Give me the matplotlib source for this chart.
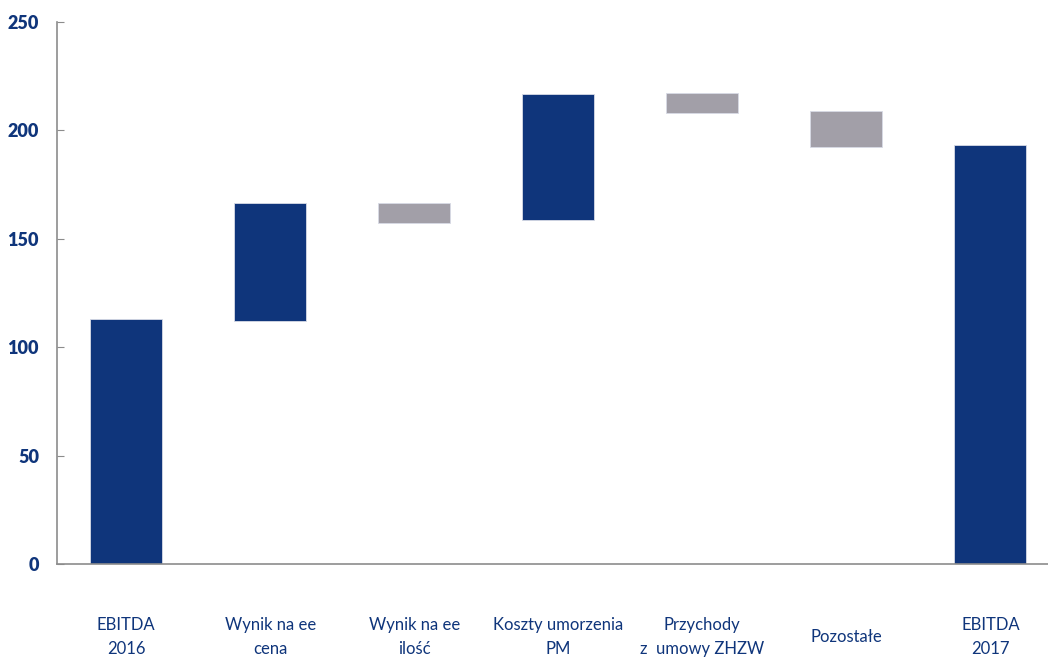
import matplotlib
matplotlib.use("Agg")
import matplotlib.pyplot as plt
import numpy as np

plt.rcParams.update({
    'font.family': ['Lato', 'DejaVu Sans'],
})

categories = ['EBITDA\n2016', 'Wynik na ee\ncena', 'Wynik na ee\nilość',
              'Koszty umorzenia\nPM', 'Przychody\nz  umowy ZHZW', 'Pozostałe',
              'EBITDA\n2017']
bar_start = [0, 112.0, 166.4, 158.5, 217.1, 209.0, 0]
bar_end = [113.0, 166.5, 157.4, 216.9, 208.2, 192.2, 193.1]

navy = '#0f357b'
grey = '#a29fa8'
axis_grey = '#8c8c8c'

fig = plt.figure(figsize=(10.48, 6.57), dpi=100)
ax = fig.add_axes([0.0544, 0.1416, 0.9456, 0.8250])

x = np.arange(len(categories))
low = np.minimum(bar_start, bar_end)
height = np.abs(np.array(bar_end) - np.array(bar_start))
colors = [navy if e >= s else grey for s, e in zip(bar_start, bar_end)]
ax.bar(x, height, bottom=low, width=0.5, color=colors,
       edgecolor='#d8dbe6', linewidth=0.6)

ax.set_xlim(-0.48, 6.40)
ax.set_ylim(0, 250)
ax.set_yticks([0, 50, 100, 150, 200, 250])
ax.tick_params(axis='y', direction='in', length=5, color=axis_grey,
               labelcolor=navy, labelsize=13, pad=13)
for lbl in ax.get_yticklabels():
    lbl.set_fontweight('heavy')

ax.set_xticks(x)
ax.set_xticklabels(categories, color=navy, fontsize=12, linespacing=1.65,
                   va='center')
ax.tick_params(axis='x', length=0, pad=52.5)

for side in ['top', 'right']:
    ax.spines[side].set_visible(False)
for side in ['left', 'bottom']:
    ax.spines[side].set_color(axis_grey)
    ax.spines[side].set_linewidth(1.2)

fig.savefig('out.png', dpi=100, facecolor='white')
